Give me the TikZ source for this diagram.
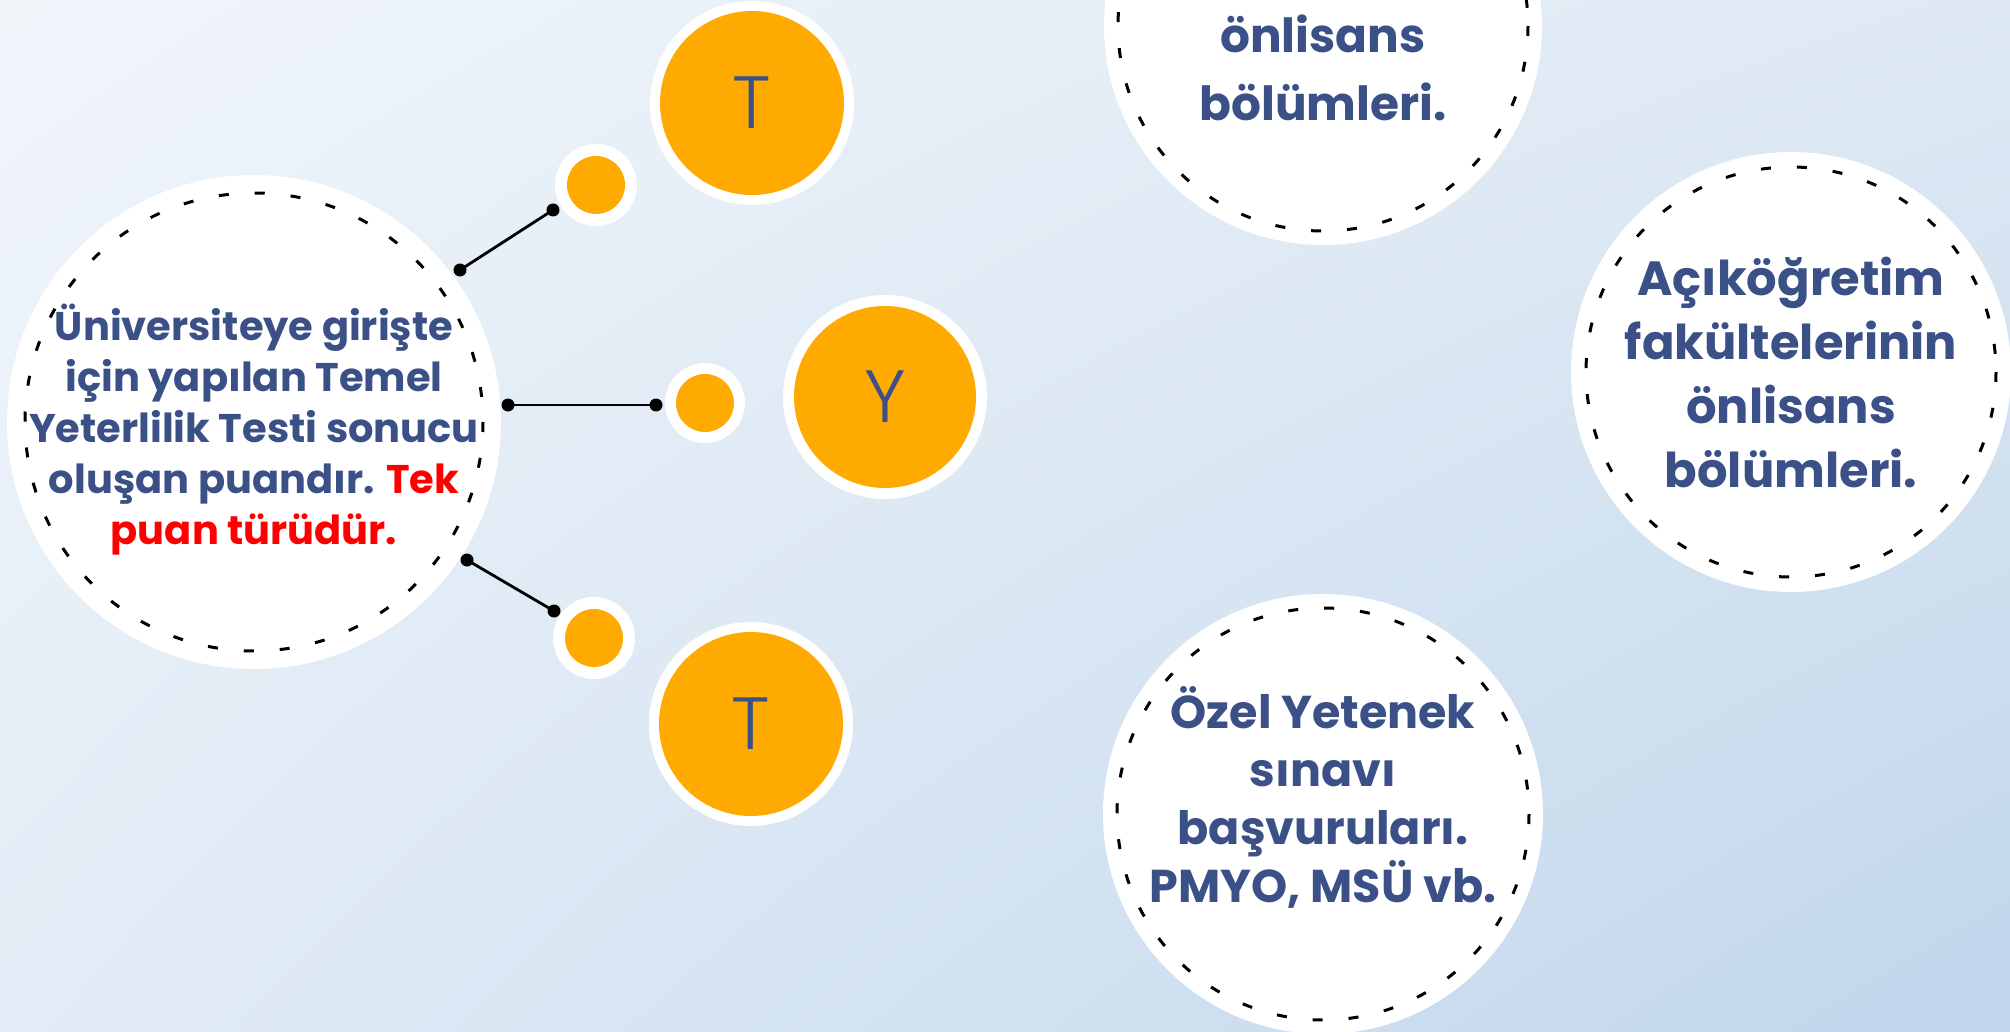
\documentclass[tikz,border=0pt]{standalone}
\usepackage{fontspec}
\usetikzlibrary{shadings}
\newfontfamily\gothic{Poppins}
\newfontfamily\plain{Poppins Light}
\definecolor{txtblue}{RGB}{59,80,135}
\definecolor{orng}{RGB}{255,170,0}
\definecolor{bgA}{RGB}{240,245,250}
\definecolor{bgB}{RGB}{222,233,244}
\definecolor{bgC}{RGB}{226,236,246}
\definecolor{bgD}{RGB}{192,214,235}
\tikzset{
  bigdisc/.style={circle,fill=white,inner sep=0pt,minimum size=#1},
  dashring/.style={draw=black,line width=3pt,dash pattern=on 10pt off 26pt},
  ring/.style={circle,fill=white,inner sep=0pt,minimum size=#1},
  orangedisc/.style={circle,fill=orng,inner sep=0pt,minimum size=#1},
  link/.style={draw=black,line width=2.8pt},
  dot/.style={circle,fill=black,inner sep=0pt,minimum size=13pt},
  bodytext/.style={align=center,text=txtblue,font=\gothic\bfseries},
  letter/.style={text=txtblue,font=\plain\fontsize{74}{74}\selectfont}
}
\begin{document}
\begin{tikzpicture}[x=1pt,y=-1pt]
\useasboundingbox (0,0) rectangle (2010,1032);
\shade[upper left=bgA,upper right=bgB,lower left=bgC,lower right=bgD] (0,0) rectangle (2010,1032);
% left main circle
\node[bigdisc=494pt] (L) at (254,422) {};
\draw[dashring] (L.center) circle[radius=229];
\node[bodytext,font=\gothic\bfseries\fontsize{40}{51}\selectfont] (Lt) at (254,430)
  {Üniversiteye girişte\\için yapılan Temel\\Yeterlilik Testi sonucu\\oluşan puandır. \textcolor{red}{Tek}\\\textcolor{red}{puan türüdür.}};
% big orange circles
\node[ring=204pt] (T1r) at (752,103) {};
\node[orangedisc=184pt] (T1) at (752,103) {};
\node[letter] at (T1) {T};
\node[ring=204pt] (Yr) at (885,397) {};
\node[orangedisc=182pt] (Y) at (885,397) {};
\node[letter] at (Y) {Y};
\node[ring=204pt] (T2r) at (751,724) {};
\node[orangedisc=184pt] (T2) at (751,724) {};
\node[letter] at (T2) {T};
% small circles
\node[ring=82pt] (S1r) at (596,185) {};
\node[orangedisc=58pt] (S1) at (596,185) {};
\node[ring=80pt] (S2r) at (705,403) {};
\node[orangedisc=58pt] (S2) at (705,403) {};
\node[ring=82pt] (S3r) at (594,638) {};
\node[orangedisc=58pt] (S3) at (594,638) {};
% connectors
\coordinate (a1) at (460,270); \coordinate (b1) at (553,210);
\coordinate (a2) at (508,405); \coordinate (b2) at (656,405);
\coordinate (a3) at (467,560); \coordinate (b3) at (554,611);
\draw[link] (a1) -- (b1);
\draw[link] (a2) -- (b2);
\draw[link] (a3) -- (b3);
\foreach \p in {a1,b1,a2,b2,a3,b3} \node[dot] at (\p) {};
% top right circle (cut)
\node[bigdisc=438pt] (R1) at (1323,26) {};
\draw[dashring] (R1.center) circle[radius=205];
\node[bodytext,font=\gothic\bfseries\fontsize{47}{68}\selectfont] (R1t) at (1323,68)
  {önlisans\\bölümleri.};
% right circle
\node[bigdisc=440pt] (R2) at (1791,372) {};
\draw[dashring] (R2.center) circle[radius=205];
\node[bodytext,font=\gothic\bfseries\fontsize{48}{64}\selectfont] (R2t) at (1791,372)
  {Açıköğretim\\fakültelerinin\\önlisans\\bölümleri.};
% bottom circle
\node[bigdisc=440pt] (R3) at (1323,814) {};
\draw[dashring] (R3.center) circle[radius=206];
\node[bodytext,font=\gothic\bfseries\fontsize{46}{58}\selectfont] (R3t) at (1323,797)
  {Özel Yetenek\\sınavı\\başvuruları.\\PMYO, MSÜ vb.};
\end{tikzpicture}
\end{document}
